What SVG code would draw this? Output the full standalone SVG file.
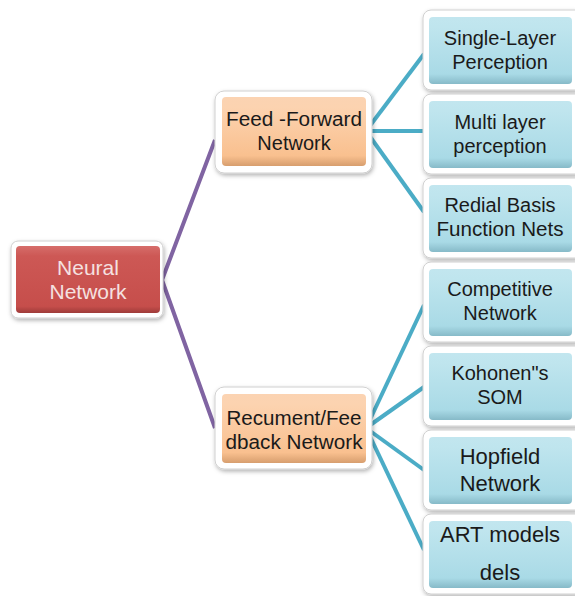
<svg xmlns="http://www.w3.org/2000/svg" width="575" height="596" viewBox="0 0 575 596">
<defs>
<filter id="sh" x="-10%" y="-10%" width="130%" height="130%">
<feDropShadow dx="1" dy="2" stdDeviation="2" flood-color="#000" flood-opacity="0.3"/>
</filter>
<linearGradient id="gRed" x1="0" y1="0" x2="0" y2="1">
<stop offset="0" stop-color="#D66D6A"/>
<stop offset="0.15" stop-color="#CD5855"/>
<stop offset="0.9" stop-color="#C64E4B"/>
<stop offset="1" stop-color="#9E3B39"/>
</linearGradient>
<linearGradient id="gOr" x1="0" y1="0" x2="0" y2="1">
<stop offset="0" stop-color="#FBD3B2"/>
<stop offset="0.15" stop-color="#FCD3B0"/>
<stop offset="0.85" stop-color="#F9C08F"/>
<stop offset="1" stop-color="#D79E6E"/>
</linearGradient>
<linearGradient id="gBl" x1="0" y1="0" x2="0" y2="1">
<stop offset="0" stop-color="#C2E6EF"/>
<stop offset="0.15" stop-color="#BFE5EE"/>
<stop offset="0.85" stop-color="#A9DAE6"/>
<stop offset="1" stop-color="#86BAC8"/>
</linearGradient>
</defs>
<style>
.frame{fill:#fff;stroke:#d0d0d0;stroke-width:1;filter:url(#sh)}
.red{fill:url(#gRed)}
.or{fill:url(#gOr)}
.bl{fill:url(#gBl)}
text{font-family:"Liberation Sans",Arial,sans-serif;font-size:20px;text-anchor:middle;fill:#1a1a1a}
.lt{fill:#F5E1E0;font-size:21px}
.cp{fill:none;stroke:#8064A2;stroke-width:4}
.ct{fill:none;stroke:#4BACC6;stroke-width:4}
</style>
<g id="connectors">
<polyline class="cp" points="215,140 162,280 215,428"/>
<line class="ct" x1="366" y1="131" x2="424" y2="54"/>
<line class="ct" x1="366" y1="131" x2="424" y2="131"/>
<line class="ct" x1="366" y1="131" x2="424" y2="212"/>
<line class="ct" x1="366" y1="428" x2="424" y2="305"/>
<line class="ct" x1="366" y1="428" x2="424" y2="387"/>
<line class="ct" x1="366" y1="428" x2="424" y2="470"/>
<line class="ct" x1="366" y1="428" x2="424" y2="550"/>
</g>
<g id="neural">
<rect class="frame" x="11" y="241" width="152" height="77" rx="7"/>
<rect class="red" x="16" y="246" width="144" height="67" rx="4"/>
<text class="lt" x="88" y="275">Neural</text>
<text class="lt" x="88" y="299">Network</text>
</g>
<g id="feedforward">
<rect class="frame" x="215" y="91" width="157" height="82" rx="9"/>
<rect class="or" x="222" y="97" width="144" height="69" rx="4"/>
<text x="294" y="126" textLength="136" lengthAdjust="spacingAndGlyphs">Feed -Forward</text>
<text x="294" y="150">Network</text>
</g>
<g id="recument">
<rect class="frame" x="215" y="387" width="157" height="82" rx="9"/>
<rect class="or" x="222" y="394" width="144" height="69" rx="4"/>
<text x="294" y="425" textLength="135" lengthAdjust="spacingAndGlyphs">Recument/Fee</text>
<text x="294" y="449" textLength="137" lengthAdjust="spacingAndGlyphs">dback Network</text>
</g>
<g id="single">
<rect class="frame" x="423" y="10" width="160" height="80" rx="8"/>
<rect class="bl" x="429" y="17" width="143" height="67" rx="4"/>
<text x="500" y="45">Single-Layer</text>
<text x="500" y="69">Perception</text>
</g>
<g id="multi">
<rect class="frame" x="423" y="94" width="160" height="80" rx="8"/>
<rect class="bl" x="429" y="101" width="143" height="67" rx="4"/>
<text x="500" y="129">Multi layer</text>
<text x="500" y="153">perception</text>
</g>
<g id="redial">
<rect class="frame" x="423" y="178" width="160" height="80" rx="8"/>
<rect class="bl" x="429" y="185" width="143" height="67" rx="4"/>
<text x="500" y="212">Redial Basis</text>
<text x="500" y="236" textLength="127" lengthAdjust="spacingAndGlyphs">Function Nets</text>
</g>
<g id="competitive">
<rect class="frame" x="423" y="262" width="160" height="80" rx="8"/>
<rect class="bl" x="429" y="269" width="143" height="67" rx="4"/>
<text x="500" y="296">Competitive</text>
<text x="500" y="320">Network</text>
</g>
<g id="kohonen">
<rect class="frame" x="423" y="346" width="160" height="80" rx="8"/>
<rect class="bl" x="429" y="353" width="143" height="67" rx="4"/>
<text x="500" y="380">Kohonen"s</text>
<text x="500" y="404">SOM</text>
</g>
<g id="hopfield">
<rect class="frame" x="423" y="430" width="160" height="80" rx="8"/>
<rect class="bl" x="429" y="437" width="143" height="67" rx="4"/>
<text x="500" y="464" style="font-size:22px">Hopfield</text>
<text x="500" y="491" style="font-size:22px">Network</text>
</g>
<g id="art">
<rect class="frame" x="423" y="514" width="160" height="80" rx="8"/>
<rect class="bl" x="429" y="521" width="143" height="67" rx="4"/>
<text x="500" y="542" style="font-size:22px" textLength="120" lengthAdjust="spacingAndGlyphs">ART models</text>
<text x="500" y="580" style="font-size:22px">dels</text>
</g>
</svg>
